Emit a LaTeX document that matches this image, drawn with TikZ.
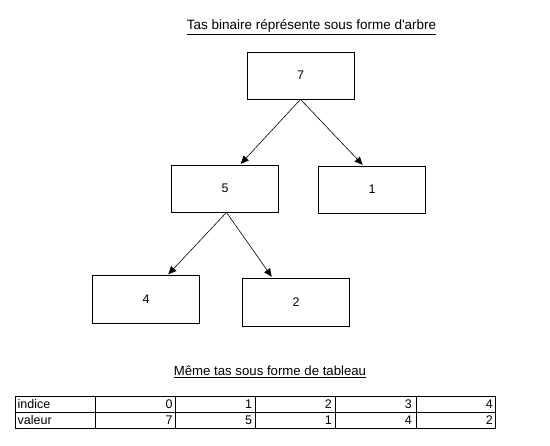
\documentclass[tikz,border=0pt]{standalone}
\usepackage{fontspec}
\setmainfont{Liberation Sans}[Ligatures=TeXOff]
\usetikzlibrary{arrows.meta, calc}

\begin{document}
\begin{tikzpicture}[
        x=1pt, y=-1pt,
        font=\fontsize{12.5}{14}\selectfont,
        cle/.style={rectangle, draw=black, line width=0.8pt, fill=white,
                    minimum width=107pt, minimum height=47pt, inner sep=0pt},
        titre/.style={inner sep=0pt},
        cell/.style={inner sep=0pt, anchor=base},
        arr/.style={-{Triangle[length=8pt, width=7pt]}, draw=black, line width=0.6pt, shorten >=1pt},
        grille/.style={draw=black, line width=0.9pt}
    ]
    \useasboundingbox (0,0) rectangle (550,446);

    % Titre du tas
    \node[titre, font=\fontsize{13.5}{15}\selectfont] (titreArbre) at (311.5,27)
        {\underline{Tas binaire réprésente sous forme d'arbre}};

    % Noeuds de l'arbre
    \node[cle] (n7) at (300.5, 75.5) {7};
    \node[cle] (n5) at (225, 188.5) {5};
    \node[cle] (n1) at (372, 189.5) {1};
    \node[cle, minimum height=48pt] (n4) at (146, 299.5) {4};
    \node[cle, minimum height=48pt] (n2) at (296, 302) {2};

    % Aretes pere -> fils
    \draw[arr] (n7.south) -- ($(n5.north west)!0.64!(n5.north east)$);
    \draw[arr] (n7.south) -- ($(n1.north west)!0.42!(n1.north east)$);
    \draw[arr] ($(n5.south)+(1.5,0)$) -- ($(n4.north west)!0.70!(n4.north east)$);
    \draw[arr] ($(n5.south)+(1.5,0)$) -- ($(n2.north west)!0.28!(n2.north east)$);

    % Titre du tableau
    \node[titre, font=\fontsize{13.2}{15}\selectfont] (titreTab) at (270,372)
        {\underline{Même tas sous forme de tableau}};

    % Tableau indice / valeur
    \draw[grille] (15.7,396) rectangle (495.7,428.3);
    \draw[grille] (15.7,412.3) -- (495.7,412.3);
    \foreach \cx in {95.7,175.3,255,335,416}
        \draw[grille] (\cx,396) -- (\cx,428.3);

    \node[cell, anchor=base west] (indice) at (17.5,408.5) {indice};
    \node[cell, anchor=base west] (valeur) at (17.5,424.5) {valeur};
    \foreach \cx/\i/\v in {95.7/0/7, 175.3/1/5, 255/2/1, 335/3/4, 416/4/2} {
        \pgfmathsetmacro{\rx}{\cx+80-3}
        \node[cell, anchor=base east] (i\i) at (\rx,408.5) {\i};
        \node[cell, anchor=base east] (v\i) at (\rx,424.5) {\v};
    }

\end{tikzpicture}
\end{document}
